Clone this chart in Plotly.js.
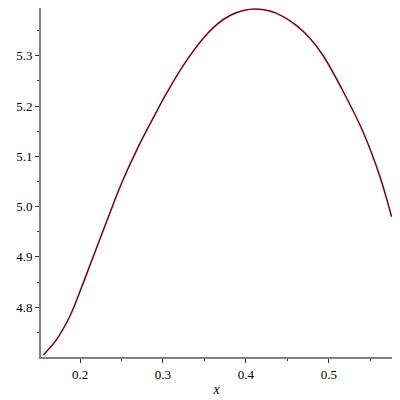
<!DOCTYPE html>
<html>
<head>
<meta charset="utf-8">
<script src="https://cdn.plot.ly/plotly-3.0.1.min.js"></script>
<style>
  html, body { margin: 0; padding: 0; background: #fff; }
  #graph1 { width: 400px; height: 400px; }
</style>
</head>
<body>
<div id="graph1"></div>
<script>
// points
var xs = [0.1558, 0.1719, 0.1880, 0.2020, 0.2160, 0.2322, 0.2502, 0.2702, 0.2904, 0.3045, 0.3245,
          0.3486, 0.3647, 0.3807, 0.3968, 0.4108, 0.4289, 0.4449, 0.4610, 0.4771, 0.4931,
          0.5172, 0.5413, 0.5614, 0.5755];
var ys = [4.705, 4.736, 4.783, 4.840, 4.901, 4.971, 5.047, 5.119, 5.183, 5.226, 5.281,
          5.335, 5.362, 5.380, 5.390, 5.393, 5.389, 5.378, 5.360, 5.335, 5.300,
          5.229, 5.148, 5.060, 4.980];

var xTicks = [0.2, 0.3, 0.4, 0.5];
var yTicks = [4.8, 4.9, 5.0, 5.1, 5.2, 5.3];

function graficarCurva() {
    var data = [
        {
            x: xs,
            y: ys,
            type: 'scatter',
            mode: 'lines',
            line: { color: 'rgb(120, 0, 20)', width: 1.5, shape: 'spline', smoothing: 1 },
            hoverinfo: 'skip'
        }
    ];

    var tickFont = { family: '"Liberation Serif", "DejaVu Serif", "Times New Roman", serif', size: 13, color: '#000' };

    var layout = {
        width: 400,
        height: 400,
        margin: { l: 41, r: 8, t: 8, b: 43 },
        paper_bgcolor: '#fff',
        plot_bgcolor: '#fff',
        showlegend: false,
        font: { family: '"Liberation Serif", "DejaVu Serif", serif' },
        xaxis: {
            range: [0.153, 0.576],
            tickvals: xTicks,
            ticktext: xTicks.map(function (v) { return v.toFixed(1); }),
            ticks: 'outside',
            ticklen: 4,
            tickwidth: 1,
            tickcolor: '#333',
            minor: { dtick: 0.05, tick0: 0.2, ticks: 'outside', ticklen: 2, tickcolor: '#333', showgrid: false },
            showline: true,
            linecolor: '#808080',
            linewidth: 2,
            showgrid: false,
            zeroline: false,
            tickfont: tickFont,
            title: { text: '<i>x</i>', font: { family: '"Liberation Serif", "DejaVu Serif", serif', size: 14, color: '#000' }, standoff: 4 }
        },
        yaxis: {
            range: [4.701, 5.395],
            tickvals: yTicks,
            ticktext: yTicks.map(function (v) { return v.toFixed(1); }),
            ticks: 'outside',
            ticklen: 4,
            tickwidth: 1,
            tickcolor: '#333',
            minor: { dtick: 0.05, tick0: 4.8, ticks: 'outside', ticklen: 2, tickcolor: '#333', showgrid: false },
            showline: true,
            linecolor: '#808080',
            linewidth: 2,
            showgrid: false,
            zeroline: false,
            tickfont: tickFont
        }
    };

    Plotly.newPlot('graph1', data, layout, { staticPlot: true });
}

graficarCurva();
</script>
</body>
</html>
